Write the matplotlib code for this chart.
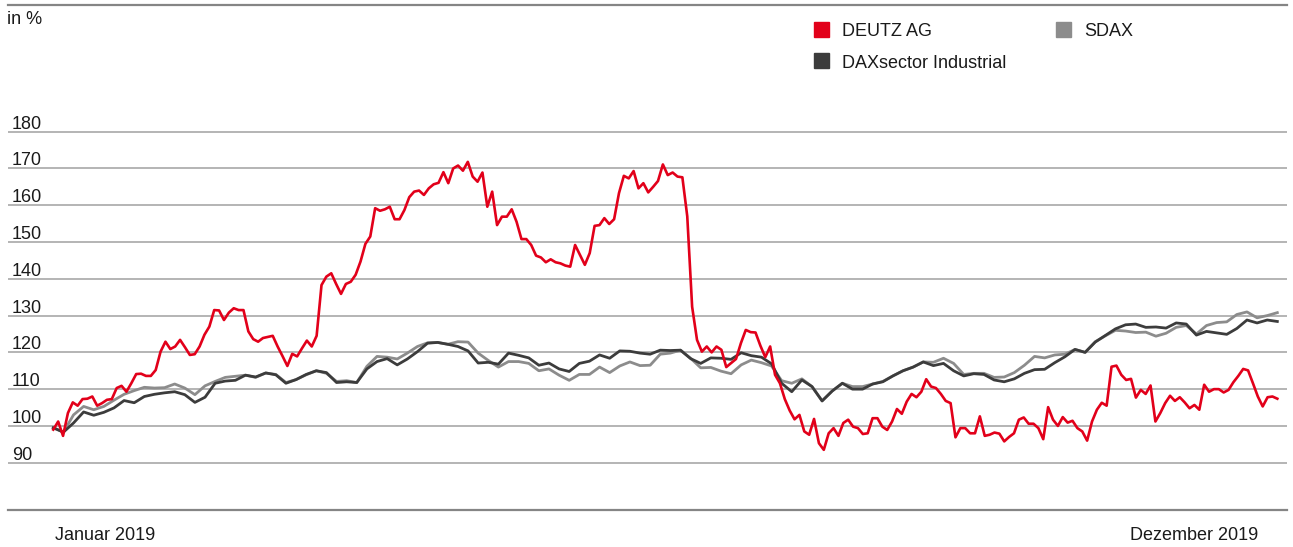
import numpy as np
import matplotlib
matplotlib.use("Agg")
import matplotlib.pyplot as plt
from matplotlib.patches import Rectangle
from matplotlib.transforms import blended_transform_factory, offset_copy

plt.rcParams["font.family"] = ["Liberation Sans", "DejaVu Sans"]

# Indexed performance, Jan 2019 = 100
deutz = [
    99, 101.2, 97.3, 103.5, 106.4, 105.5, 107.3, 107.4, 108, 105.5,
    106.2, 107.1, 107.3, 110.3, 110.9, 109.3, 111.6, 114.1, 114.2, 113.6,
    113.6, 115.2, 120.2, 122.9, 120.9, 121.6, 123.4, 121.4, 119.3, 119.5,
    121.6, 124.8, 127, 131.5, 131.4, 128.8, 130.8, 132, 131.5, 131.5,
    125.7, 123.6, 122.9,
    123.9, 124.2, 124.5, 121.6, 119.0, 116.3, 119.6, 118.9, 121.1, 123.2,
    121.6, 124.5, 138.3, 140.6, 141.5, 138.6, 135.9, 138.6, 139.2, 141.1,
    144.7, 149.5, 151.5, 159.2, 158.5, 158.9, 159.6, 156.2, 156.2, 158.7,
    162.2, 163.7, 164, 162.8, 164.6, 165.7, 166.1, 169, 166, 170,
    170.8, 169.4, 171.8,
    167.8, 166.4, 168.9, 159.6, 163.7, 154.6, 156.9, 156.9, 158.9, 155.5,
    150.8, 150.8, 149.2, 146.3, 145.8, 144.5, 145.3, 144.5, 144.2, 143.6,
    143.3, 149.2, 146.5, 143.8, 147, 154.4, 154.6, 156.5, 154.9, 156.2,
    163.3, 168, 167.3, 169.3, 164.6, 166, 163.5, 165, 166.6, 171.1,
    168.2, 168.9, 167.8,
    167.6, 157, 132.4, 123.4, 120.2, 121.6, 120, 121.6, 120.7, 116,
    117.1, 118.2, 122.5, 126.1, 125.5, 125.4, 121.8, 118.7, 121.6, 113.9,
    111.6, 107.3, 104.2, 101.8, 103, 98.5, 97.6, 101.9, 95.3, 93.5,
    98, 99.4, 97.3, 100.8, 101.7, 99.8, 99.4, 97.8, 98, 102.1,
    102.1,
    99.8, 98.9, 101.2, 104.6, 103.3, 106.6, 108.7, 107.8, 109.3, 112.7,
    110.7, 110.3, 108.7, 106.8, 106.2, 96.9, 99.4, 99.4, 98, 98,
    102.6, 97.3, 97.6, 98.2, 97.9, 95.8, 97, 98, 101.7, 102.3,
    100.6, 100.6, 99.4, 96.4, 105.1, 101.7, 100, 102.4, 100.9, 101.4,
    99.4, 98.5, 96, 101.2, 104.4, 106.3, 105.5, 116.1, 116.4, 113.9,
    112.5, 112.8, 107.7, 109.8, 108.7, 111, 101.2, 103.5, 106.2, 108.2,
    106.8, 107.8, 106.4, 104.8, 105.7, 104.4, 111.2, 109.3, 110, 110,
    109.1, 109.8, 111.9, 113.6, 115.5, 115.1, 111.6, 108, 105.3, 107.8,
    108, 107.4,
]

sdax = [
    99.5, 98.3, 103.0, 105.3, 104.4, 105.3, 107, 108.6, 109.6, 110.5,
    110.3, 110.4, 111.4, 110.3, 108.5, 110.9, 112.1, 113.2, 113.5, 113.8,
    113.2, 114.4, 114, 111.8, 112.6, 113.9, 115, 114.3, 112.1, 112.3,
    111.8, 116.2, 118.9, 118.7, 118.2, 119.8, 121.6, 122.6, 122.7, 122.2,
    122.9, 122.8, 119.8, 117.8, 116, 117.5, 117.5, 117, 115, 115.5,
    113.8, 112.4, 114, 114, 116, 114.5, 116.3, 117.4, 116.4, 116.5,
    119.5, 119.8, 120.6, 118.4, 115.8, 115.9, 114.9, 114.2, 116.6, 117.9,
    117.2, 116.3, 112.3, 111.6, 112.8, 110.7, 106.8, 109.5, 111.6, 110.7,
    110.7, 111.4, 112.1, 113.6, 115, 116, 117.4, 117.3, 118.4, 117,
    114, 114.3, 114.3, 113.2, 113.3, 114.5, 116.5, 118.9, 118.5, 119.3,
    119.5, 120.8, 120, 122.9, 124.5, 126, 125.8, 125.4, 125.5, 124.4,
    125.2, 126.8, 127.3, 125, 127.3, 128.1, 128.3, 130.3, 131, 129.4,
    130, 130.8,
]

daxsector = [
    99.5, 98.3, 100.8, 103.8, 102.9, 103.7, 104.9, 106.9, 106.3, 108,
    108.6, 109, 109.3, 108.5, 106.4, 107.8, 111.6, 112.2, 112.4, 113.8,
    113.3, 114.4, 113.9, 111.6, 112.6, 114, 115, 114.5, 111.8, 112,
    111.8, 115.5, 117.5, 118.3, 116.6, 118.2, 120.2, 122.5, 122.7, 122.2,
    121.6, 120.4, 117.1, 117.3, 116.8, 119.8, 119.2, 118.5, 116.5, 117.1,
    115.5, 114.8, 117, 117.6, 119.3, 118.4, 120.4, 120.3, 119.8, 119.5,
    120.6, 120.5, 120.6, 118.3, 117, 118.5, 118.4, 118.1, 119.9, 119.1,
    118.7, 116.9, 111.6, 109.3, 112.5, 110.7, 106.8, 109.5, 111.6, 110,
    110, 111.4, 112, 113.6, 115, 116, 117.4, 116.4, 117, 115,
    113.6, 114.2, 114, 112.5, 112, 112.8, 114.3, 115.3, 115.4, 117.2,
    118.8, 120.8, 120, 122.8, 124.6, 126.4, 127.5, 127.7, 126.8, 126.9,
    126.6, 128, 127.7, 124.7, 125.7, 125.3, 124.9, 126.5, 128.8, 128,
    128.8, 128.4,
]

y_ticks = [90, 100, 110, 120, 130, 140, 150, 160, 170, 180]

RED = "#e2001a"
LIGHT = "#8c8c8c"
DARK = "#3c3c3c"
W, H = 1293, 547


def fpx(x, y):
    """Pixel position (from top-left) to figure fraction."""
    return x / W, 1 - y / H


fig = plt.figure(figsize=(W / 100, H / 100), dpi=100)
ax = fig.add_axes([8 / W, 37 / H, 1279 / W, 505 / H])
ax.set_ylim(77.14, 214.45)
ax.set_xlim(-0.037, 1.0079)

for v in y_ticks:
    ax.axhline(v, color="#a0a0a0", lw=1.1, zorder=1)

ax.plot(np.linspace(0, 1, len(sdax)), sdax, color=LIGHT, lw=2.0, zorder=2)
ax.plot(np.linspace(0, 1, len(daxsector)), daxsector, color=DARK, lw=2.0, zorder=3)
ax.plot(np.linspace(0, 1, len(deutz)), deutz, color=RED, lw=1.9, zorder=4)

ax.set_xticks([])
ax.set_yticks([])
for side in ["left", "right"]:
    ax.spines[side].set_visible(False)
for side in ["top", "bottom"]:
    ax.spines[side].set_color("#858585")
    ax.spines[side].set_linewidth(1.6)

# y labels sit just above each gridline
trans = offset_copy(blended_transform_factory(ax.transAxes, ax.transData),
                    fig=fig, y=3, units="dots")
for v in y_ticks:
    ax.text(0.003, v, str(v), transform=trans, fontsize=13,
            va="baseline", ha="left", color="#1a1a1a")

fig.text(*fpx(7, 24), "in %", fontsize=13, va="baseline", color="#1a1a1a")
fig.text(*fpx(55, 540), "Januar 2019", fontsize=13, va="baseline", color="#1a1a1a")
fig.text(*fpx(1130, 540), "Dezember 2019", fontsize=13, va="baseline", color="#1a1a1a")

legend_items = [
    ("DEUTZ AG", RED, 814, 22),
    ("SDAX", LIGHT, 1056, 22),
    ("DAXsector Industrial", DARK, 814, 53),
]
for label, color, x, y in legend_items:
    fx, fy = fpx(x, y + 15)
    fig.add_artist(Rectangle((fx, fy), 15 / W, 15 / H, color=color,
                             transform=fig.transFigure))
    fig.text(*fpx(x + 28, y + 14.5), label, fontsize=13, va="baseline",
             color="#1a1a1a")

fig.savefig("out.png", dpi=100)
